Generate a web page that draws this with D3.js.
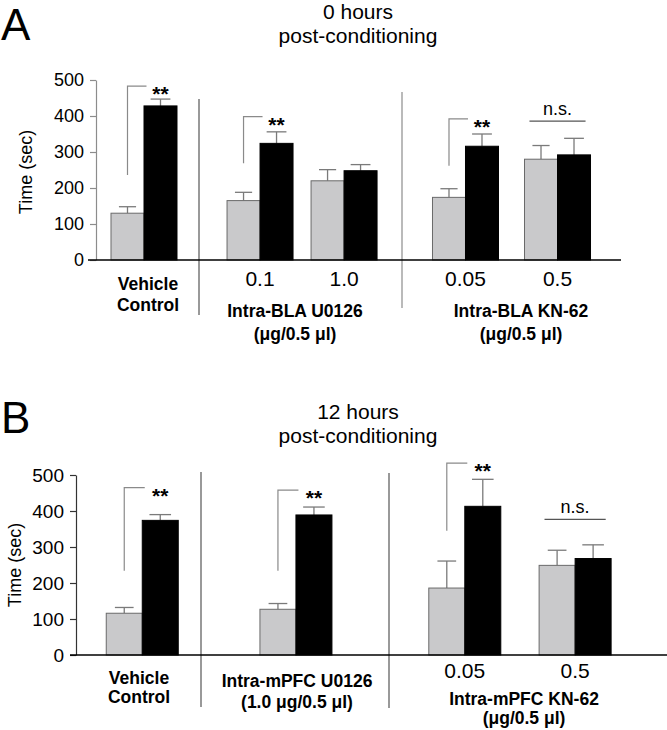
<!DOCTYPE html>
<html><head><meta charset="utf-8">
<script src="https://cdn.jsdelivr.net/npm/d3@7"></script>
<style>
body{margin:0;background:#fff;}
svg{display:block;font-family:"Liberation Sans",Arial,Helvetica,sans-serif;}
</style></head>
<body>
<svg id="chart" width="667" height="730"></svg>
<script>
// ---------- DATA ----------
const yTicks = [0, 100, 200, 300, 400, 500];

// Panel A: 0 hours post-conditioning
const sectionsA = [["Vehicle"], ["0.1", "1.0"], ["0.05", "0.5"]];
const doseLabelsA = ["", "0.1", "1.0", "0.05", "0.5"];
const groupsA = ["Vehicle", "0.1", "1.0", "0.05", "0.5"];
const grayA = [130, 165, 220, 174, 280];
const grayErrA = [18, 23, 31, 24, 38];
const blackA = [428, 324, 248, 316, 292];
const blackErrA = [19, 32, 17, 34, 46];
const sigA = ["**", "**", "", "**", "n.s."];
const bracketLowA = [236, 269, 0, 262, 0];
const bracketHighA = [483, 398, 0, 392, 386];

// Panel B: 12 hours post-conditioning
const sectionsB = [["Vehicle"], ["U0126"], ["0.05", "0.5"]];
const doseLabelsB = ["", "", "0.05", "0.5"];
const groupsB = ["Vehicle", "U0126", "0.05", "0.5"];
const grayB = [116, 127, 186, 249];
const grayErrB = [16, 16, 75, 42];
const blackB = [374, 389, 413, 268];
const blackErrB = [16, 22, 75, 38];
const sigB = ["**", "**", "**", "n.s."];
const bracketLowB = [234, 234, 345, 0];
const bracketHighB = [465, 458, 533, 377];

// ---------- LAYOUT ----------
const svg = d3.select("#chart");
const FONT = '"Liberation Sans",Arial,Helvetica,sans-serif';

function panel(cfg) {
  const g = svg.append("g");
  const y = d3.scaleLinear().domain([0, 500]).range([cfg.y0, cfg.y500]);

  const xOf = {};
  cfg.sections.forEach((sec, i) => {
    const s = d3.scalePoint().domain(sec).range(cfg.secRanges[i])
      .padding(cfg.secPad[i]).align(cfg.secAlign[i]);
    sec.forEach(k => xOf[k] = s(k));
  });
  const bw = cfg.bw;

  // y axis
  const ax = g.append("g").attr("transform", `translate(${cfg.axisX},0)`)
    .call(d3.axisLeft(y).tickValues(cfg.ticks).tickSize(6).tickPadding(6).tickSizeOuter(0));
  ax.select(".domain").attr("stroke", cfg.axisColor).attr("stroke-width", 1.2);
  ax.selectAll(".tick line").attr("stroke", cfg.axisColor).attr("stroke-width", 1.2);
  ax.selectAll(".tick text").attr("font-size", cfg.tickFont).attr("font-family", FONT).attr("fill", "#000");

  // y label
  g.append("text").attr("transform", `translate(${cfg.ylabX},${cfg.ylabY}) rotate(-90)`)
    .attr("text-anchor", "middle").attr("font-size", 18).text("Time (sec)");

  // dividers
  cfg.dividers.forEach(d => {
    g.append("line").attr("x1", d.x).attr("x2", d.x).attr("y1", d.y1).attr("y2", d.y2)
      .attr("stroke", d.c).attr("stroke-width", 1.2);
  });

  const data = cfg.groups.map((k, i) => ({
    k, cx: xOf[k], gv: cfg.gray[i], ge: cfg.grayErr[i], bv: cfg.black[i], be: cfg.blackErr[i],
    sig: cfg.sig[i], lo: cfg.lo[i], hi: cfg.hi[i]
  }));

  // error bars
  const errColor = "#7a7a7a";
  data.forEach(d => {
    [[d.cx - bw / 2, d.gv, d.ge, bw * 0.52], [d.cx + bw / 2, d.bv, d.be, bw * 0.6]].forEach(([x, v, e, cw]) => {
      g.append("line").attr("x1", x).attr("x2", x).attr("y1", y(v)).attr("y2", y(v + e))
        .attr("stroke", errColor).attr("stroke-width", 1.3);
      g.append("line").attr("x1", x - cw / 2).attr("x2", x + cw / 2).attr("y1", y(v + e)).attr("y2", y(v + e))
        .attr("stroke", errColor).attr("stroke-width", 1.3);
    });
  });

  // bars
  g.selectAll("rect.gray").data(data).join("rect").attr("class", "gray")
    .attr("x", d => d.cx - bw).attr("width", bw)
    .attr("y", d => y(d.gv)).attr("height", d => y(0) - y(d.gv))
    .attr("fill", "#c9c9cb").attr("stroke", "#6a6a6a").attr("stroke-width", 1);
  g.selectAll("rect.black").data(data).join("rect").attr("class", "black")
    .attr("x", d => d.cx).attr("width", bw)
    .attr("y", d => y(d.bv)).attr("height", d => y(0) - y(d.bv))
    .attr("fill", "#000").attr("stroke", "#000").attr("stroke-width", 1);

  // baseline
  g.append("line").attr("x1", cfg.baseX1).attr("x2", cfg.baseX2).attr("y1", y(0)).attr("y2", y(0))
    .attr("stroke", "#000").attr("stroke-width", 1.6);

  // significance
  data.forEach(d => {
    if (d.sig === "**") {
      const gx = d.cx - bw / 2;
      g.append("path").attr("d", `M${gx},${y(d.lo)}V${y(d.hi)}H${d.cx + 2.5}`)
        .attr("fill", "none").attr("stroke", "#8a8a8a").attr("stroke-width", 1.2);
      g.append("text").attr("x", d.cx + bw / 2).attr("y", y(d.hi) + 15)
        .attr("text-anchor", "middle").attr("font-size", 21).attr("font-weight", "bold").text("**");
    } else if (d.sig === "n.s.") {
      g.append("line").attr("x1", d.cx - bw * 0.85).attr("x2", d.cx + bw * 0.85)
        .attr("y1", y(d.hi)).attr("y2", y(d.hi)).attr("stroke", "#555").attr("stroke-width", 1.2);
      g.append("text").attr("x", d.cx).attr("y", y(d.hi) - 6)
        .attr("text-anchor", "middle").attr("font-size", 18).text("n.s.");
    }
  });

  // dose labels
  data.forEach((d, i) => {
    if (cfg.doses[i]) g.append("text").attr("x", d.cx).attr("y", cfg.doseY)
      .attr("text-anchor", "middle").attr("font-size", 21).text(cfg.doses[i]);
  });

  // bold group labels
  cfg.labels.forEach(l => {
    g.append("text").attr("x", l.x).attr("y", l.y).attr("text-anchor", "middle")
      .attr("font-size", 17.5).attr("font-weight", "bold").text(l.t);
  });

  // titles
  g.append("text").attr("x", 358).attr("y", cfg.titleY).attr("text-anchor", "middle")
    .attr("font-size", 21).text(cfg.title1);
  g.append("text").attr("x", 358).attr("y", cfg.titleY + 24).attr("text-anchor", "middle")
    .attr("font-size", 21).text("post-conditioning");
  g.append("text").attr("x", cfg.letterX).attr("y", cfg.letterY).attr("font-size", 44).text(cfg.letter);
}

panel({
  letter: "A", letterX: 1, letterY: 40, title1: "0 hours", titleY: 19,
  y0: 260, y500: 80, axisX: 96, axisColor: "#8c8c8c", ticks: yTicks, tickFont: 18,
  ylabX: 32, ylabY: 172,
  sections: sectionsA, secRanges: [[96, 199], [199, 402], [402, 621]],
  secPad: [0.5, 0.708, 0.69], secAlign: [0.466, 0.513, 0.5], bw: 33,
  groups: groupsA, gray: grayA, grayErr: grayErrA, black: blackA, blackErr: blackErrA,
  sig: sigA, lo: bracketLowA, hi: bracketHighA, doses: doseLabelsA, doseY: 286,
  baseX1: 88, baseX2: 621,
  dividers: [{x: 199, y1: 99, y2: 315, c: "#555"}, {x: 402, y1: 92, y2: 308, c: "#8c8c8c"}],
  labels: [
    {t: "Vehicle", x: 148, y: 290}, {t: "Control", x: 148, y: 311},
    {t: "Intra-BLA U0126", x: 295, y: 317}, {t: "(\u03bcg/0.5 \u03bcl)", x: 295, y: 340},
    {t: "Intra-BLA KN-62", x: 521, y: 317}, {t: "(\u03bcg/0.5 \u03bcl)", x: 521, y: 340}
  ]
});

panel({
  letter: "B", letterX: 1, letterY: 433, title1: "12 hours", titleY: 419,
  y0: 655, y500: 475, axisX: 76, axisColor: "#333", ticks: yTicks, tickFont: 19,
  ylabX: 21, ylabY: 565,
  sections: sectionsB, secRanges: [[76, 201], [201, 389], [389, 667]],
  secPad: [0.5, 0.5, 0.76], secAlign: [0.53, 0.505, 0.452], bw: 36,
  groups: groupsB, gray: grayB, grayErr: grayErrB, black: blackB, blackErr: blackErrB,
  sig: sigB, lo: bracketLowB, hi: bracketHighB, doses: doseLabelsB, doseY: 678,
  baseX1: 70, baseX2: 667,
  dividers: [{x: 201, y1: 472, y2: 707, c: "#555"}, {x: 389, y1: 473, y2: 708, c: "#555"}],
  labels: [
    {t: "Vehicle", x: 139, y: 684}, {t: "Control", x: 139, y: 703},
    {t: "Intra-mPFC U0126", x: 297, y: 687}, {t: "(1.0 \u03bcg/0.5 \u03bcl)", x: 297, y: 708},
    {t: "Intra-mPFC KN-62", x: 524, y: 705}, {t: "(\u03bcg/0.5 \u03bcl)", x: 524, y: 724}
  ]
});
</script>
</body></html>
